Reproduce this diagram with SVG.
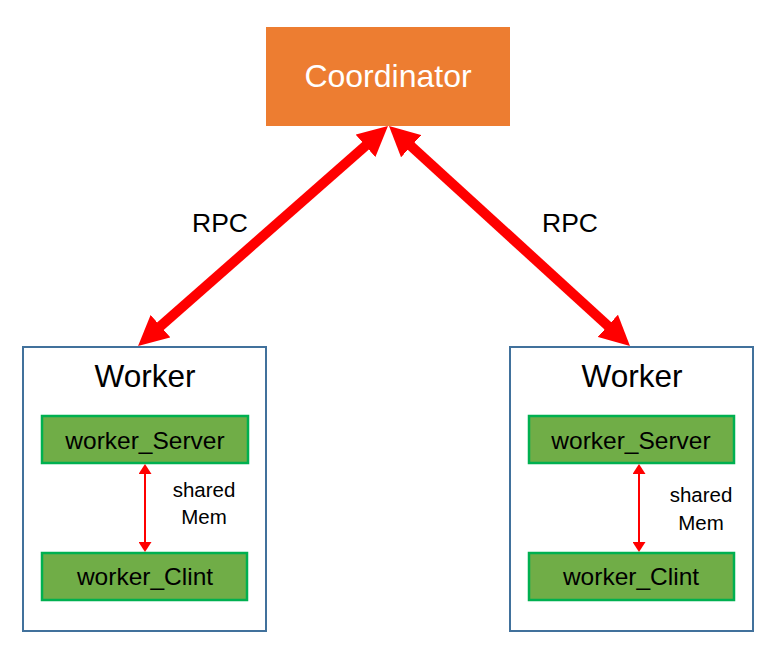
<svg xmlns="http://www.w3.org/2000/svg" width="779" height="669" viewBox="0 0 779 669">
<style>
text{font-family:"Liberation Sans",Arial,sans-serif;text-anchor:middle;fill:#000}
.worker{fill:#fff;stroke:#41719C;stroke-width:2}
.comp{fill:#70AD47;stroke:#00B050;stroke-width:2.5}
.big{stroke:#FF0000;stroke-width:10;fill:none}
.small{stroke:#FF0000;stroke-width:2;fill:none}
</style>
<defs>
<marker id="bigHead" viewBox="0 0 30 30" markerWidth="30" markerHeight="30" markerUnits="userSpaceOnUse" refX="15" refY="15" orient="auto-start-reverse">
<path d="M0,0 L30,15 L0,30 z" fill="#FF0000"/>
</marker>
<marker id="smallHead" viewBox="0 0 10 13" markerWidth="10" markerHeight="13" markerUnits="userSpaceOnUse" refX="7" refY="6.5" orient="auto-start-reverse">
<path d="M0,0 L10,6.5 L0,13 z" fill="#FF0000"/>
</marker>
</defs>
<rect width="779" height="669" fill="#fff"/>
<g id="coordinator">
<rect x="266" y="27" width="244" height="99" fill="#ED7D31"/>
<text x="388" y="87" font-size="32" style="fill:#fff">Coordinator</text>
</g>
<g id="worker-left">
<rect class="worker" x="23" y="347" width="243" height="284"/>
<text x="145" y="387" font-size="31.5">Worker</text>
</g>
<g id="worker-left-server">
<rect class="comp" x="42" y="416" width="206" height="47"/>
<text x="145" y="449" font-size="24.5">worker_Server</text>
</g>
<g id="worker-left-client">
<rect class="comp" x="42" y="553" width="205" height="47"/>
<text x="145" y="585" font-size="24.5">worker_Clint</text>
</g>
<g id="worker-right">
<rect class="worker" x="510" y="347" width="243" height="284"/>
<text x="632" y="387" font-size="31.5">Worker</text>
</g>
<g id="worker-right-server">
<rect class="comp" x="529" y="416" width="205" height="47"/>
<text x="631" y="449" font-size="24.5">worker_Server</text>
</g>
<g id="worker-right-client">
<rect class="comp" x="529" y="553" width="205" height="47"/>
<text x="631" y="585" font-size="24.5">worker_Clint</text>
</g>
<g id="connectors">
<line class="big" x1="376.7" y1="135.9" x2="149.3" y2="336.1" marker-start="url(#bigHead)" marker-end="url(#bigHead)"/>
<line class="big" x1="400.1" y1="136.1" x2="618.9" y2="335.9" marker-start="url(#bigHead)" marker-end="url(#bigHead)"/>
<line class="small" x1="145" y1="467" x2="145" y2="549" marker-start="url(#smallHead)" marker-end="url(#smallHead)"/>
<line class="small" x1="639" y1="467" x2="639" y2="549" marker-start="url(#smallHead)" marker-end="url(#smallHead)"/>
<text x="220" y="232" font-size="26.5">RPC</text>
<text x="570" y="232" font-size="26.5">RPC</text>
<text x="204" y="497" font-size="20.5">shared</text>
<text x="204" y="524" font-size="20.5">Mem</text>
<text x="701" y="502" font-size="20.5">shared</text>
<text x="701" y="530" font-size="20.5">Mem</text>
</g>
</svg>
